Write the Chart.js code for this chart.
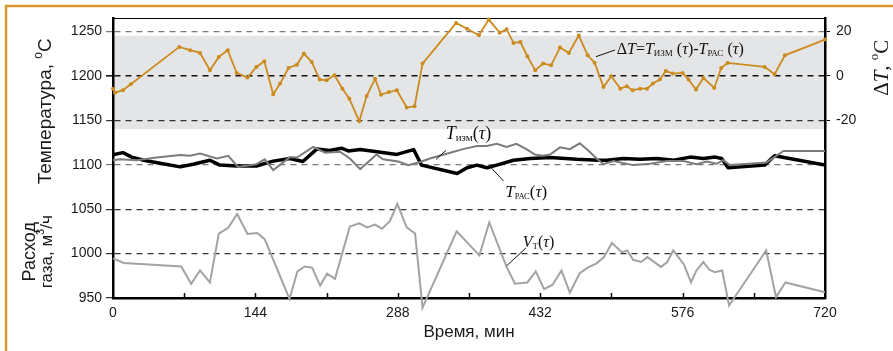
<!DOCTYPE html>
<html>
<head>
<meta charset="utf-8">
<script src="https://cdn.jsdelivr.net/npm/chart.js@4.4.0/dist/chart.umd.min.js"></script>
<style>
    html, body { margin: 0; padding: 0; background: #fff; }
    #wrap { width: 893px; height: 351px; }
</style>
</head>
<body>
<div id="wrap"><canvas id="graficaHorno" width="893" height="351"></canvas></div>
<script>
// Ось времени, мин
const xTickValues = [0, 72, 144, 216, 288, 360, 432, 504, 576, 648, 720];
const xTickLabels = [0, 144, 288, 432, 576, 720];
const leftTicks = [950, 1000, 1050, 1100, 1150, 1200, 1250];
const rightTicks = [-20, 0, 20];
const bandRange = [1140, 1245];

// ΔT = Tизм - Tрас (правая ось)
const deltaTime = [0, 2, 10, 18, 67, 78, 88, 98, 107, 116, 125, 136, 145, 153, 162, 169, 177.5, 186, 193, 201,
    209, 216, 224, 232, 239, 249, 256.5, 265, 271, 279, 287, 297, 305, 313, 347, 358, 370, 380, 391, 398,
    405, 412, 419, 427, 435, 443, 452, 461, 471, 480, 487, 496, 504, 513, 519.5, 525.5, 533, 540, 546, 553,
    559, 566, 576, 582, 589.5, 597, 608, 615, 621.5, 659, 669, 679.5, 720];
const deltaValues = [-5.8, -7.6, -6.5, -3.8, 13.0, 11.5, 10.3, 2.5, 8.5, 11.5, 1.3, -0.8, 4.0, 6.5, -8.3, -3.5, 3.5, 5.0, 10.0, 6.2,
    -1.7, -2.0, 0.2, -5.8, -10.3, -20.5, -9.1, -1.3, -8.5, -7.3, -6.5, -14.3, -13.7, 5.5, 23.8, 21.2, 18.2, 25.3, 19.4, 20.9,
    14.8, 15.2, 8.8, 2.5, 5.5, 4.7, 12.7, 10.3, 18.1, 9.2, 5.9, -5.0, -0.2, -5.8, -4.7, -6.5, -5.8, -5.8, -3.5, -1.7,
    2.2, 1.0, 1.3, -1.7, -6.2, -1.0, -5.5, 3.5, 5.8, 4.0, 0.7, 9.2, 16.3];

// Tизм - измеренная температура
const measTime = [0, 7, 24, 44, 68, 78, 88, 105, 116.5, 126.5, 145, 153.5, 162, 179, 186, 202.5, 214.5, 229.5, 239.5, 250,
    266.5, 273, 288.5, 298.5, 310.5, 320.5, 341, 354, 368, 378, 388, 398, 408, 418, 426.5, 435, 442, 452, 462, 472,
    482, 489, 496, 506, 526, 543, 560, 577, 590, 600.5, 610.5, 617, 624, 661, 678, 720];
const measValues = [1105, 1106, 1105, 1108, 1111, 1110, 1112.5, 1107, 1110, 1097.5, 1100.5, 1106, 1094, 1108.5, 1108, 1120, 1113.5, 1114.5, 1107, 1095,
    1111.5, 1106, 1103.5, 1099.5, 1103, 1107, 1113.5, 1117.5, 1121, 1121, 1123.5, 1120, 1123.5, 1117.5, 1111.5, 1110, 1111.5, 1119.5, 1117.5, 1124,
    1114.5, 1107, 1100.5, 1104, 1099.5, 1101, 1104, 1104, 1100.5, 1103.5, 1101, 1105, 1099.5, 1102.5, 1115.5, 1115.5];

// Tрас - расчетная температура
const calcTime = [0, 10, 19, 31, 47.5, 68, 81, 98, 108, 125, 145, 162, 179, 192, 206, 219, 231, 238, 250, 267,
    287, 304, 312, 348, 358, 368, 378, 388, 405, 422, 442, 469, 491, 499, 516, 533, 550, 567, 583.5, 597,
    609, 615.5, 622, 659, 669, 720];
const calcValues = [1111, 1113.5, 1108.5, 1105, 1101.5, 1097.5, 1100.5, 1105, 1099.5, 1098.5, 1098.5, 1104, 1107, 1103.5, 1117.5, 1116, 1118.5, 1115.5, 1117, 1114.5,
    1111.5, 1117, 1099.5, 1090, 1096.5, 1099.5, 1096.5, 1099.5, 1105, 1107, 1108, 1106, 1105, 1105, 1107, 1106, 1107, 1105, 1108.5, 1107,
    1108.5, 1107, 1096.5, 1099.5, 1110, 1099.5];

// Vт - расход газа, м3/ч
const gasTime = [0, 11, 69, 79, 88, 98, 107, 116.5, 125.5, 136, 146, 153.5, 178.5, 186.5, 194, 201.5, 209.5, 216.5, 224.5, 239.5,
    249, 257, 265, 272, 280, 287.5, 297, 305.5, 313, 347.5, 370.5, 380.5, 398, 406.5, 419, 427.5, 436, 444.5, 453.5, 462,
    472, 480.5, 489, 496.5, 504.5, 514.5, 520, 526, 534, 540.5, 554, 560.5, 566.5, 577.5, 584.5, 590, 597, 603, 608.5, 616,
    623, 660.5, 670.5, 680, 720];
const gasValues = [994.5, 989.5, 985.5, 966, 981, 967.5, 1022.5, 1029, 1044.5, 1022, 1023, 1016, 949, 980, 985.5, 984, 964, 977.5, 971.5, 1030.5,
    1034, 1029.5, 1032.5, 1028, 1036.5, 1056, 1029.5, 1022.5, 939, 1025, 998, 1035, 985, 966, 967.5, 980, 960, 965, 981, 956,
    978, 984.5, 989, 996, 1012, 1001.5, 1003.5, 993, 990.5, 996, 985, 990.5, 1003.5, 987.5, 967.5, 981, 990.5, 982, 979, 981,
    941.5, 1003.5, 951, 967.5, 956.5];

const leftMin = 950, leftMax = 1265;
// ΔT = 0 совпадает с 1200 °C, 20 °C на правой оси = 50 °C на левой
const toDelta = v => (v - 1200) / 2.5;

const sans = '"Liberation Sans", Arial, sans-serif';
const serif = '"Liberation Serif", "Times New Roman", serif';
const orange = '#cc8b1e';

function pares(xs, ys) {
    return xs.map((x, i) => ({ x: x, y: ys[i] }));
}

function anchoRuns(ctx, runs) {
    let w = 0;
    runs.forEach(r => { ctx.font = r.f; w += ctx.measureText(r.t).width; });
    return w;
}

function dibujarRuns(ctx, runs, x, y) {
    runs.forEach(r => {
        ctx.font = r.f;
        ctx.fillText(r.t, x, y + (r.dy || 0));
        x += ctx.measureText(r.t).width;
    });
}

function dibujarVertical(ctx, runs, baseX, centerY) {
    ctx.save();
    ctx.translate(baseX, centerY);
    ctx.rotate(-Math.PI / 2);
    dibujarRuns(ctx, runs, -anchoRuns(ctx, runs) / 2, 0);
    ctx.restore();
}

const it = s => `italic ${s}px ${serif}`;
const rm = s => `${s}px ${serif}`;

// подписи кривых: точка текста и выноска в единицах осей (мин, °C)
const notas = [
    { at: [509.4, 1224.5], from: [488.4, 1221.5], to: [507.6, 1229],
      runs: [{ t: 'Δ', f: rm(16) }, { t: 'T', f: it(16) }, { t: '=', f: rm(16) }, { t: 'T', f: it(16) },
             { t: 'ИЗМ', f: rm(9), dy: 2 }, { t: ' (', f: rm(16) }, { t: 'τ', f: it(16) }, { t: ')-', f: rm(16) },
             { t: 'T', f: it(16) }, { t: 'РАС', f: rm(9), dy: 2 }, { t: ' (', f: rm(16) }, { t: 'τ', f: it(16) }, { t: ')', f: rm(16) }] },
    { at: [336.4, 1128.5], from: [326.6, 1105.9], to: [336.7, 1116],
      runs: [{ t: 'T', f: it(18) }, { t: 'изм', f: rm(11), dy: 2 }, { t: '(', f: rm(18) }, { t: 'τ', f: it(18) }, { t: ')', f: rm(18) }] },
    { at: [396.7, 1064], from: [381.2, 1098], to: [394.9, 1081.6],
      runs: [{ t: 'T', f: it(17) }, { t: 'РАС', f: rm(8.5), dy: 2 }, { t: '(', f: rm(17) }, { t: 'τ', f: it(17) }, { t: ')', f: rm(17) }] },
    { at: [414.3, 1007.7], from: [398.1, 986.3], to: [417.6, 1006.3],
      runs: [{ t: 'V', f: it(16) }, { t: 'Т', f: rm(9), dy: 2 }, { t: '(', f: rm(16) }, { t: 'τ', f: it(16) }, { t: ')', f: rm(16) }] }
];

const decoracion = {
    id: 'decoracion',
    beforeDraw(chart) {
        const { ctx, chartArea: a, scales } = chart;
        const y = scales.y;
        ctx.save();
        // серая полоса допустимой зоны
        const top = y.getPixelForValue(bandRange[1]);
        const bot = y.getPixelForValue(bandRange[0]);
        ctx.fillStyle = '#e4e5e6';
        ctx.fillRect(a.left, top, a.right - a.left, bot - top);
        // рамка
        ctx.strokeStyle = '#d9962a';
        ctx.lineWidth = 2.5;
        ctx.beginPath();
        ctx.moveTo(6, chart.height);
        ctx.lineTo(6, 6);
        ctx.lineTo(chart.width, 6);
        ctx.stroke();
        // верхняя граница поля графика
        ctx.strokeStyle = '#000';
        ctx.lineWidth = 1.2;
        ctx.beginPath();
        ctx.moveTo(a.left, a.top + 0.5);
        ctx.lineTo(a.right, a.top + 0.5);
        ctx.stroke();
        ctx.restore();
    },
    afterDatasetsDraw(chart) {
        const { ctx, scales } = chart;
        const x = scales.x, y = scales.y;
        ctx.save();
        ctx.fillStyle = '#111';
        ctx.strokeStyle = '#111';
        ctx.lineWidth = 1;
        ctx.textBaseline = 'alphabetic';
        notas.forEach(n => {
            ctx.beginPath();
            ctx.moveTo(x.getPixelForValue(n.from[0]), y.getPixelForValue(n.from[1]));
            ctx.lineTo(x.getPixelForValue(n.to[0]), y.getPixelForValue(n.to[1]));
            ctx.stroke();
            dibujarRuns(ctx, n.runs, x.getPixelForValue(n.at[0]), y.getPixelForValue(n.at[1]));
        });
        ctx.restore();
    },
    afterDraw(chart) {
        const { ctx, chartArea: a, scales } = chart;
        const x = scales.x, y = scales.y;
        ctx.save();
        // внутренние засечки оси времени
        ctx.strokeStyle = '#000';
        ctx.lineWidth = 1.5;
        xTickValues.slice(1, -1).forEach(v => {
            const px = Math.round(x.getPixelForValue(v)) + 0.5;
            ctx.beginPath();
            ctx.moveTo(px, a.bottom - 5);
            ctx.lineTo(px, a.bottom);
            ctx.stroke();
        });
        ctx.fillStyle = '#1a1a1a';
        ctx.textBaseline = 'alphabetic';
        ctx.textAlign = 'left';
        // подписи осей
        dibujarVertical(ctx, [{ t: 'Температура, ', f: `19px ${sans}` }, { t: 'o', f: `12px ${sans}`, dy: -9 },
            { t: 'C', f: `19px ${sans}` }], 51, y.getPixelForValue(1160));
        dibujarVertical(ctx, [{ t: 'Расход', f: `18px ${sans}` }], 35, y.getPixelForValue(1002));
        dibujarVertical(ctx, [{ t: 'газа, м', f: `17px ${sans}` }, { t: '3', f: `11px ${sans}`, dy: -8 },
            { t: '/ч', f: `17px ${sans}` }], 52, y.getPixelForValue(1002));
        dibujarVertical(ctx, [{ t: 'Δ', f: rm(21) }, { t: 'T', f: it(21) }, { t: ', ', f: rm(21) },
            { t: 'o', f: rm(13), dy: -10 }, { t: 'C', f: rm(21) }], 888, y.getPixelForValue(1209));
        ctx.font = `17px ${sans}`;
        const titulo = 'Время, мин';
        ctx.fillText(titulo, (a.left + a.right) / 2 - ctx.measureText(titulo).width / 2, 337);
        ctx.restore();
    }
};

const tickFont = { family: sans, size: 14 };

const ctx = document.getElementById('graficaHorno').getContext('2d');
const graficaHorno = new Chart(ctx, {
    type: 'line',
    data: {
        datasets: [
            {
                label: 'Vт',
                data: pares(gasTime, gasValues),
                yAxisID: 'y',
                borderColor: '#a3a3a3',
                borderWidth: 2,
                pointRadius: 0,
                clip: false
            },
            {
                label: 'Tизм',
                data: pares(measTime, measValues),
                yAxisID: 'y',
                borderColor: '#7c7c7c',
                borderWidth: 2,
                pointRadius: 0
            },
            {
                label: 'Tрас',
                data: pares(calcTime, calcValues),
                yAxisID: 'y',
                borderColor: '#000',
                borderWidth: 3.5,
                borderJoinStyle: 'round',
                pointRadius: 0
            },
            {
                label: 'ΔT',
                data: pares(deltaTime, deltaValues),
                yAxisID: 'y2',
                borderColor: orange,
                borderWidth: 1.8,
                pointRadius: 2,
                pointBorderWidth: 0,
                pointBackgroundColor: orange,
                clip: false
            }
        ]
    },
    options: {
        responsive: false,
        animation: false,
        layout: { padding: { top: 18, left: 0, right: 0, bottom: 0 } },
        plugins: {
            legend: { display: false },
            tooltip: { enabled: false }
        },
        scales: {
            x: {
                type: 'linear',
                min: 0,
                max: 720,
                afterBuildTicks: ax => { ax.ticks = xTickValues.map(v => ({ value: v })); },
                afterFit: s => { s.height = 53; },
                ticks: {
                    autoSkip: false,
                    maxRotation: 0,
                    padding: 7,
                    color: '#1a1a1a',
                    font: tickFont,
                    callback: v => xTickLabels.includes(v) ? String(v) : ''
                },
                grid: { display: false, drawTicks: false },
                border: { display: true, color: '#000', width: 2.5 }
            },
            y: {
                type: 'linear',
                position: 'left',
                min: leftMin,
                max: leftMax,
                afterBuildTicks: ax => { ax.ticks = leftTicks.map(v => ({ value: v })); },
                afterFit: s => { s.width = 113; },
                ticks: { padding: 4, color: '#1a1a1a', font: tickFont, callback: v => String(v) },
                grid: {
                    tickLength: 7,
                    tickBorderDash: [],
                    color: c => {
                        const v = c.tick ? c.tick.value : 0;
                        if (v === 1200) return '#151515';
                        if (v === 1250 || v === 1100) return '#7a7a7a';
                        return '#333';
                    },
                    lineWidth: c => (c.tick && c.tick.value === 1200) ? 1.6 : 1.2
                },
                border: { display: true, color: '#000', width: 2.5, dash: [6, 5] }
            },
            y2: {
                type: 'linear',
                position: 'right',
                min: toDelta(leftMin),
                max: toDelta(leftMax),
                afterBuildTicks: ax => { ax.ticks = rightTicks.map(v => ({ value: v })); },
                afterFit: s => { s.width = 68; },
                ticks: { padding: 6, color: '#1a1a1a', font: tickFont, callback: v => String(v) },
                grid: { drawOnChartArea: false, tickLength: 5, color: '#000' },
                border: { display: true, color: '#000', width: 2.5 }
            }
        }
    },
    plugins: [decoracion]
});
</script>
</body>
</html>
